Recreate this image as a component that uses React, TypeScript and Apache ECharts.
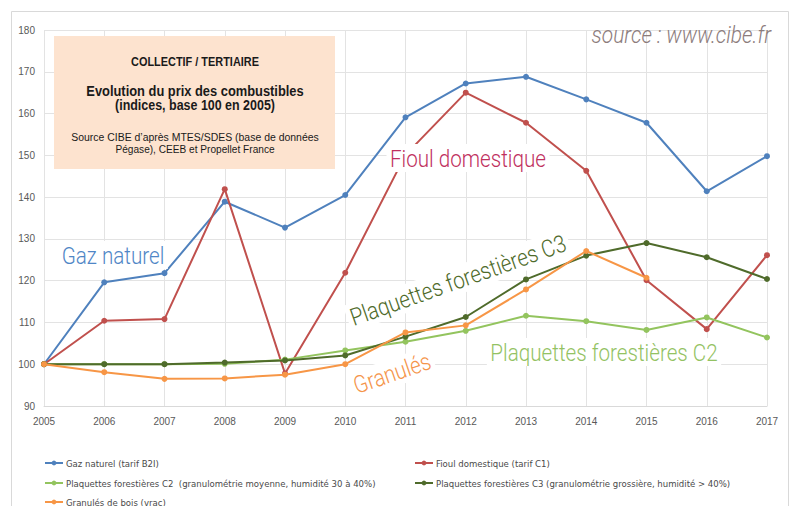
import React, { useEffect, useRef } from "react";
import * as echarts from "echarts";

const years = ["2005","2006","2007","2008","2009","2010","2011","2012","2013","2014","2015","2016","2017"];
const yTicks = { min: 90, max: 180, interval: 10 };

const gazNaturel = [100, 119.6, 121.8, 138.9, 132.7, 140.5, 159.1, 167.2, 168.8, 163.4, 157.8, 141.4, 149.8];
const fioulDomestique = [100, 110.4, 110.8, 141.9, 97.8, 121.9, 150.1, 165.0, 157.8, 146.3, 120.1, 108.4, 126.1];
const plaquettesC2 = [100, 100, 100, 100.1, 101.1, 103.3, 105.4, 108.0, 111.6, 110.3, 108.2, 111.2, 106.4];
const plaquettesC3 = [100, 100, 100, 100.4, 100.9, 102.1, 106.6, 111.3, 120.3, 126.0, 129.0, 125.6, 120.4];
const granules = [100, 98.1, 96.5, 96.6, 97.5, 100, 107.6, 109.3, 117.9, 127.1, 120.7];

const seriesNames = [
  "Gaz naturel (tarif B2I)",
  "Fioul domestique (tarif C1)",
  "Plaquettes forestières C2  (granulométrie moyenne, humidité 30 à 40%)",
  "Plaquettes forestières C3 (granulométrie grossière, humidité > 40%)",
  "Granulés de bois (vrac)",
];
const seriesColors = ["#4f81bd", "#c0504d", "#93c45e", "#4f6b2b", "#f79646"];

const titleLines = [
  { text: "COLLECTIF / TERTIAIRE", bold: true },
  { text: "Evolution du prix des combustibles", bold: true },
  { text: "(indices, base 100 en 2005)", bold: true },
  { text: "Source CIBE d’après MTES/SDES (base de données", bold: false },
  { text: "Pégase), CEEB et Propellet France", bold: false },
];

const annotations = [
  { text: "Gaz naturel", color: "#4f86c6" },
  { text: "Fioul domestique", color: "#c0305e" },
  { text: "Plaquettes forestières C3", color: "#4f6b2b" },
  { text: "Granulés", color: "#f5954a" },
  { text: "Plaquettes forestières C2", color: "#93c263" },
];
const sourceText = "source : www.cibe.fr";

function annot(i: number, x: number, y: number, rot: number, bg: boolean) {
  const a = annotations[i];
  return {
    type: "text",
    x, y, rotation: rot, scaleX: 0.86, z: 20,
    style: {
      text: a.text,
      fontFamily: "Roboto",
      fontWeight: 300,
      fontSize: 24,
      fill: a.color,
      align: "center", verticalAlign: "middle",
      textAlign: "center", textVerticalAlign: "middle",
      backgroundColor: bg ? "#ffffff" : undefined,
      padding: bg ? [2, 4, 2, 4] : 0,
    },
  };
}

function titleText(i: number, y: number, size: number, sx: number) {
  const l = titleLines[i];
  return {
    type: "text",
    x: 195, y, scaleX: sx, z: 6,
    style: {
      text: l.text,
      fontFamily: "Liberation Sans",
      fontWeight: l.bold ? "bold" : "normal",
      fontSize: size,
      fill: "#1a1a1a",
      align: "center", verticalAlign: "middle",
      textAlign: "center", textVerticalAlign: "middle",
    },
  };
}

export default function App() {
  const ref = useRef<HTMLDivElement>(null);
  useEffect(() => {
    if (!ref.current) return;
    const chart = echarts.init(ref.current, undefined, { renderer: "svg" });
    const data = [gazNaturel, fioulDomestique, plaquettesC2, plaquettesC3, granules];
    const legendPos = [
      { left: 44, top: 458 },
      { left: 414, top: 458 },
      { left: 44, top: 478 },
      { left: 414, top: 478 },
      { left: 44, top: 497 },
    ];
    chart.setOption({
      animation: false,
      backgroundColor: "#ffffff",
      grid: { left: 44, right: 26, top: 30, bottom: 100, containLabel: false },
      xAxis: {
        type: "category",
        data: years,
        boundaryGap: false,
        axisLine: { lineStyle: { color: "#d9d9d9" } },
        axisTick: { show: false },
        splitLine: { show: true, lineStyle: { color: "#e3e3e3" } },
        axisLabel: { color: "#595959", fontFamily: "Liberation Sans", fontSize: 10, margin: 10 },
      },
      yAxis: {
        type: "value",
        min: yTicks.min, max: yTicks.max, interval: yTicks.interval,
        axisLine: { show: false },
        axisTick: { show: false },
        splitLine: { lineStyle: { color: "#e3e3e3" } },
        axisLabel: { color: "#595959", fontFamily: "Liberation Sans", fontSize: 10, margin: 9 },
      },
      legend: legendPos.map((p, i) => ({
        data: [seriesNames[i]],
        left: p.left, top: p.top,
        itemWidth: 18, itemHeight: 6, itemGap: 4,
        padding: 0,
        textStyle: { fontFamily: "Liberation Sans Narrow, DejaVu Sans Condensed", fontSize: 9.5, color: "#4a4a4a", padding: [0, 0, 0, -2] },
      })),
      series: data.map((d, i) => ({
        name: seriesNames[i],
        type: "line",
        data: d,
        color: seriesColors[i],
        symbol: "circle",
        symbolSize: 6,
        lineStyle: { width: 2 },
        z: 2 + i,
      })),
      graphic: [
        {
          type: "rect", z: -1, silent: true,
          shape: { x: 11.5, y: 11.5, width: 777, height: 520 },
          style: { fill: "none", stroke: "#d9d9d9", lineWidth: 1 },
        },
        {
          type: "rect", z: 5,
          shape: { x: 54, y: 36, width: 281, height: 133 },
          style: { fill: "#fde3cf" },
        },
        titleText(0, 62, 13, 0.84),
        titleText(1, 91, 14, 0.92),
        titleText(2, 105, 14, 0.89),
        titleText(3, 137, 11.5, 0.91),
        titleText(4, 149, 11.5, 0.88),
        {
          type: "text", x: 771, y: 35, scaleX: 0.91, z: 20,
          style: {
            text: sourceText,
            fontFamily: "Roboto", fontWeight: 300, fontStyle: "italic", fontSize: 23,
            fill: "#8c7c7c",
            align: "right", verticalAlign: "middle",
            textAlign: "right", textVerticalAlign: "middle",
          },
        },
        annot(0, 113, 255, 0, true),
        annot(1, 468, 158, 0, true),
        annot(2, 458, 280, 0.34, true),
        annot(3, 392, 373, 0.33, true),
        annot(4, 604, 352, 0, true),
      ],
    });
    return () => chart.dispose();
  }, []);
  return <div ref={ref} style={{ width: 793, height: 506, position: "absolute", left: 0, top: 0 }} />;
}
